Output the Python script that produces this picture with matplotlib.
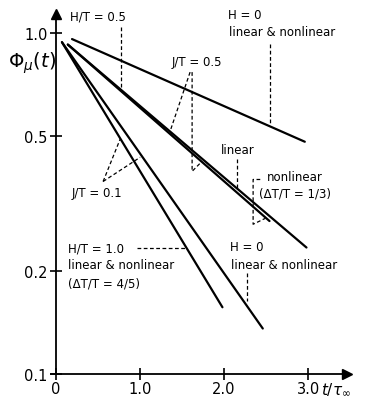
import matplotlib
matplotlib.use("Agg")
import matplotlib.pyplot as plt

# relaxation curves, t/tau_inf vs Phi_mu(t) (log axis), straight lines in log space
top_x = [0.19, 2.96]        # H = 0, linear & nonlinear (upper)
top_y = [0.96, 0.48]
nonlin_x = [0.14, 2.98]     # J/T = 0.5 nonlinear (dT/T = 1/3)
nonlin_y = [0.925, 0.235]
lin_x = [0.14, 2.54]        # J/T = 0.5 linear
lin_y = [0.925, 0.281]
ht1_x = [0.07, 1.98]        # H/T = 1.0
ht1_y = [0.94, 0.157]
h0_x = [0.07, 2.46]         # H = 0 (lower)
h0_y = [0.94, 0.136]

yticks = [0.1, 0.2, 0.5, 1.0]
ytick_labels = ["0.1", "0.2", "0.5", "1.0"]
xticks = [0, 1, 2, 3]
xtick_labels = ["0", "1.0", "2.0", "3.0"]

plt.rcParams['font.family'] = ['DejaVu Sans']

fig = plt.figure(figsize=(3.67, 4.02), dpi=100)
ax = fig.add_axes([0.139, 0.067, 0.806, 0.896])
ax.set_yscale('log')
ax.set_xlim(-0.06, 3.46)
ax.set_ylim(0.1, 1.138)

lw = 1.6
ax.plot(top_x, top_y, color='black', lw=lw, solid_capstyle='round')
ax.plot(nonlin_x, nonlin_y, color='black', lw=lw, solid_capstyle='round')
ax.plot(lin_x, lin_y, color='black', lw=lw, solid_capstyle='round')
ax.plot(ht1_x, ht1_y, color='black', lw=lw, solid_capstyle='round')
ax.plot(h0_x, h0_y, color='black', lw=lw, solid_capstyle='round')

# axes look: only left/bottom with arrows
for s in ['top', 'right']:
    ax.spines[s].set_visible(False)
ax.spines['left'].set_position(('data', 0))
ax.spines['left'].set_linewidth(1.3)
ax.spines['bottom'].set_linewidth(1.3)
ax.plot([0], [1], marker='^', color='black', markersize=7,
        transform=ax.get_xaxis_transform(), clip_on=False)
ax.plot([1], [0.1], marker='>', color='black', markersize=7,
        transform=ax.get_yaxis_transform(), clip_on=False)

ax.set_yticks(yticks)
ax.set_yticklabels(ytick_labels)
ax.yaxis.set_minor_locator(matplotlib.ticker.NullLocator())
ax.set_xticks(xticks)
ax.set_xticklabels(xtick_labels)
ax.tick_params(direction='inout', length=8, width=1.2, labelsize=10.5, pad=1)
ax.tick_params(axis='y', pad=2)

ax.text(-0.57, 0.82, r'$\Phi_\mu(t)$', fontsize=14, ha='left', va='center')
ax.text(3.15, 0.1 * 10 ** (-15 / 340), r'$t/\tau_\infty$', fontsize=11,
        ha='left', va='center', clip_on=False)

fs = 8.5
dash = dict(color='black', lw=0.9, ls=(0, (3, 2)))

# H/T = 0.5
ax.text(0.5, 1.122, 'H/T = 0.5', fontsize=fs, ha='center', va='center')
ax.plot([0.774, 0.774], [1.041, 0.684], **dash)

# J/T = 0.5
ax.text(1.68, 0.827, 'J/T = 0.5', fontsize=fs, ha='center', va='center')
ax.plot([1.595, 1.357], [0.768, 0.515], **dash)
ax.plot([1.619, 1.619, 1.714], [0.768, 0.393, 0.415], **dash)

# H = 0 upper
ax.text(2.05, 1.13, 'H = 0', fontsize=fs, ha='left', va='center')
ax.text(2.06, 1.007, 'linear & nonlinear', fontsize=fs, ha='left', va='center')
ax.plot([2.548, 2.548], [0.928, 0.540], **dash)

# J/T = 0.1
ax.text(0.488, 0.34, 'J/T = 0.1', fontsize=fs, ha='center', va='center')
ax.plot([0.56, 0.762], [0.367, 0.488], **dash)
ax.plot([0.56, 1.0], [0.367, 0.432], **dash)

# linear / nonlinear
ax.text(2.167, 0.456, 'linear', fontsize=fs, ha='center', va='center')
ax.plot([2.155, 2.155], [0.426, 0.348], **dash)
ax.text(2.845, 0.38, 'nonlinear', fontsize=fs, ha='center', va='center')
ax.text(2.845, 0.34, '(ΔT/T = 1/3)', fontsize=fs, ha='center', va='center')
ax.plot([2.43, 2.345, 2.345, 2.488], [0.372, 0.372, 0.275, 0.286], **dash)

# H/T = 1.0
ax.text(0.143, 0.235, 'H/T = 1.0', fontsize=fs, ha='left', va='center')
ax.text(0.143, 0.209, 'linear & nonlinear', fontsize=fs, ha='left', va='center')
ax.text(0.143, 0.185, '(ΔT/T = 4/5)', fontsize=fs, ha='left', va='center')
ax.plot([0.964, 1.536], [0.235, 0.235], **dash)

# H = 0 lower
ax.text(2.07, 0.236, 'H = 0', fontsize=fs, ha='left', va='center')
ax.text(2.083, 0.209, 'linear & nonlinear', fontsize=fs, ha='left', va='center')
ax.plot([2.274, 2.274], [0.198, 0.164], **dash)

fig.savefig('out.png', dpi=100)
